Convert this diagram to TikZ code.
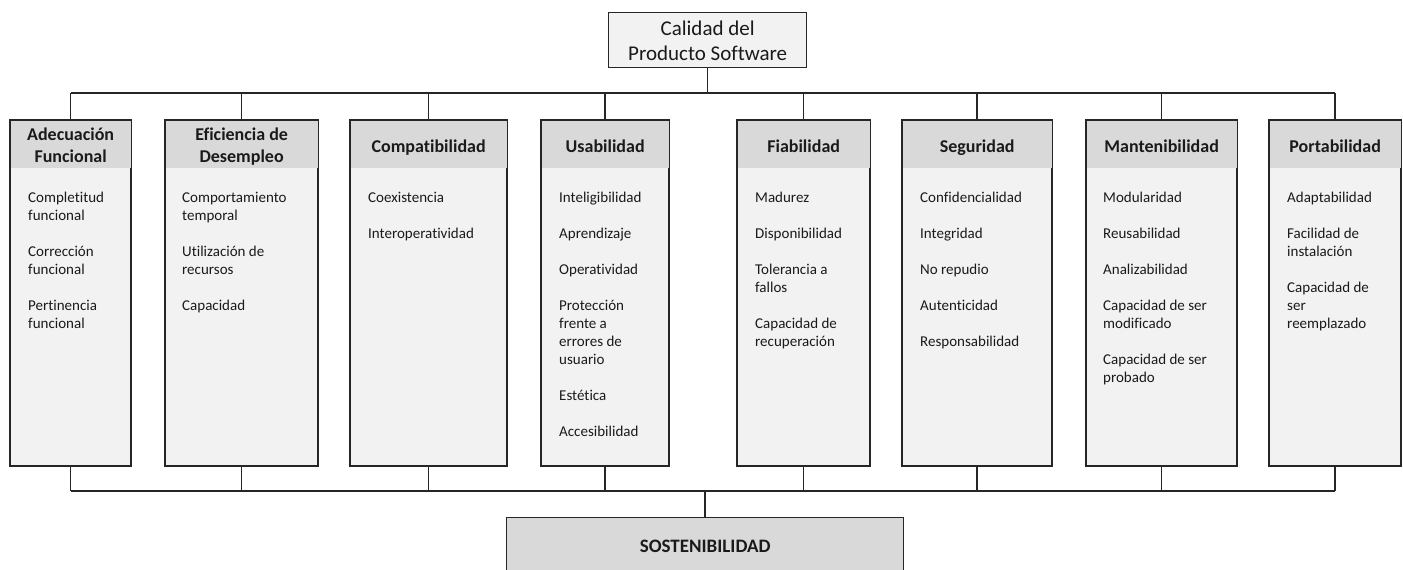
\documentclass[tikz,border=0pt]{standalone}
\usepackage{fontspec}
\setmainfont{Carlito}[Ligatures=NoCommon]
\definecolor{bodyc}{HTML}{F2F2F2}
\definecolor{hdrc}{HTML}{D9D9D9}
\definecolor{linec}{HTML}{262626}
\definecolor{txtc}{HTML}{1A1A1A}
\newcommand{\itemlist}[1]{\parbox[t]{150pt}{\raggedright\setlength{\parskip}{18pt}#1}}
\newcommand{\hdrtwo}[2]{\parbox[t]{150pt}{\centering #1\\#2}}
\begin{document}
\begin{tikzpicture}[x=1pt,y=-1pt,
  box/.style={draw=linec, line width=1.3pt, fill=bodyc, inner sep=0pt},
  hdr/.style={fill=hdrc, inner sep=0pt, minimum height=48pt, anchor=north},
  rim/.style={draw=linec, line width=1.3pt},
  htxt/.style={anchor=base, inner sep=0pt, text=txtc, font=\fontsize{18}{22}\selectfont\bfseries},
  itxt/.style={anchor=base west, inner sep=0pt, text=txtc, font=\fontsize{15}{18}\selectfont},
  conn/.style={draw=linec, line width=1.5pt}
]
\useasboundingbox (0,0) rectangle (1403,570);
\begin{scope}
\clip (0,0) rectangle (1403,570);

% top box
\node[box, minimum width=198pt, minimum height=55pt, anchor=north west] (top) at (608,12) {};
\node[anchor=base, inner sep=0pt, text=txtc, font=\fontsize{21}{25}\selectfont] (toptxt) at (top.north |- 0,35)
  {\parbox[t]{198pt}{\centering Calidad del\\Producto Software}};

% columns: bodies
\node[box, minimum width=120pt, minimum height=345pt, anchor=north west] (c1) at (10,120) {};
\node[box, minimum width=152pt, minimum height=345pt, anchor=north west] (c2) at (165,120) {};
\node[box, minimum width=156pt, minimum height=345pt, anchor=north west] (c3) at (350,120) {};
\node[box, minimum width=127pt, minimum height=345pt, anchor=north west] (c4) at (541,120) {};
\node[box, minimum width=132pt, minimum height=345pt, anchor=north west] (c5) at (737,120) {};
\node[box, minimum width=149pt, minimum height=345pt, anchor=north west] (c6) at (902,120) {};
\node[box, minimum width=150pt, minimum height=345pt, anchor=north west] (c7) at (1086,120) {};
\node[box, minimum width=131pt, minimum height=345pt, anchor=north west] (c8) at (1269,120) {};

% header bands
\node[hdr, minimum width=120pt] (h1) at (c1.north) {};
\node[hdr, minimum width=152pt] (h2) at (c2.north) {};
\node[hdr, minimum width=156pt] (h3) at (c3.north) {};
\node[hdr, minimum width=127pt] (h4) at (c4.north) {};
\node[hdr, minimum width=132pt] (h5) at (c5.north) {};
\node[hdr, minimum width=149pt] (h6) at (c6.north) {};
\node[hdr, minimum width=150pt] (h7) at (c7.north) {};
\node[hdr, minimum width=131pt] (h8) at (c8.north) {};

% borders again
\foreach \c in {c1,c2,c3,c4,c5,c6,c7,c8}
  \draw[rim] (\c.north west) rectangle (\c.south east);

% header texts
\node[htxt] (t1) at (c1.north |- 0,140) {\hdrtwo{Adecuación}{Funcional}};
\node[htxt] (t2) at (c2.north |- 0,140) {\hdrtwo{Eficiencia de}{Desempleo}};
\node[htxt] (t3) at (c3.north |- 0,152) {Compatibilidad};
\node[htxt] (t4) at (c4.north |- 0,152) {Usabilidad};
\node[htxt] (t5) at (c5.north |- 0,152) {Fiabilidad};
\node[htxt] (t6) at (c6.north |- 0,152) {Seguridad};
\node[htxt] (t7) at (c7.north |- 0,152) {Mantenibilidad};
\node[htxt] (t8) at (c8.north |- 0,152) {Portabilidad};

% item lists
\node[itxt] (i1) at (28,202) {\itemlist{Completitud\\funcional\par Corrección\\funcional\par Pertinencia\\funcional}};
\node[itxt] (i2) at (182,202) {\itemlist{Comportamiento\\temporal\par Utilización de\\recursos\par Capacidad}};
\node[itxt] (i3) at (368,202) {\itemlist{Coexistencia\par Interoperatividad}};
\node[itxt] (i4) at (559,202) {\itemlist{Inteligibilidad\par Aprendizaje\par Operatividad\par Protección\\frente a\\errores de\\usuario\par Estética\par Accesibilidad}};
\node[itxt] (i5) at (755,202) {\itemlist{Madurez\par Disponibilidad\par Tolerancia a\\fallos\par Capacidad de\\recuperación}};
\node[itxt] (i6) at (920,202) {\itemlist{Confidencialidad\par Integridad\par No repudio\par Autenticidad\par Responsabilidad}};
\node[itxt] (i7) at (1103,202) {\itemlist{Modularidad\par Reusabilidad\par Analizabilidad\par Capacidad de ser\\modificado\par Capacidad de ser\\probado}};
\node[itxt] (i8) at (1287,202) {\itemlist{Adaptabilidad\par Facilidad de\\instalación\par Capacidad de\\ser\\reemplazado}};

% bottom box
\node[box, fill=hdrc, minimum width=397pt, minimum height=80pt, anchor=north west] (sost) at (506,516.5) {};
\node[anchor=base, inner sep=0pt, text=txtc, font=\fontsize{19}{22}\selectfont\bfseries] (sosttxt) at (sost.north |- 0,552) {SOSTENIBILIDAD};

% connectors
\coordinate (tl) at (0,93);
\coordinate (bl) at (0,491);
\draw[conn] (top.south) -- (top.south |- tl);
\draw[conn] (c1.north |- tl) -- (c8.north |- tl);
\draw[conn] (c1.south |- bl) -- (c8.south |- bl);
\foreach \c in {c1,c2,c3,c4,c5,c6,c7,c8} {
  \draw[conn] (\c.north) -- (\c.north |- tl);
  \draw[conn] (\c.south) -- (\c.south |- bl);
}
\draw[conn] (sost.north) -- (sost.north |- bl);
\end{scope}
\end{tikzpicture}
\end{document}
